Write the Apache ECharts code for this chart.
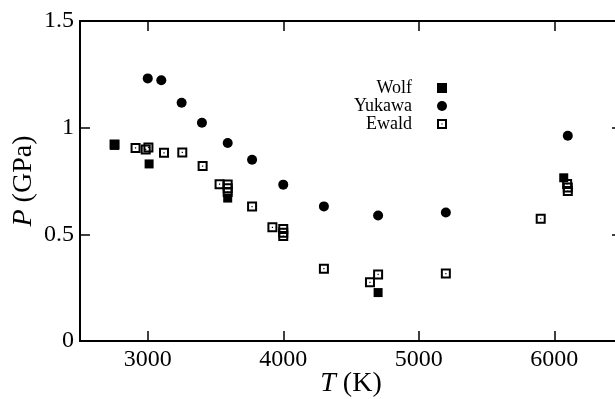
<!DOCTYPE html>
<html>
<head>
<meta charset="utf-8">
<script src="https://cdn.jsdelivr.net/npm/echarts@6/dist/echarts.min.js"></script>
<style>
  html, body { margin: 0; padding: 0; background: #fff; }
  #main { width: 615px; height: 399px; }
</style>
</head>
<body>
<div id="main"></div>
<script>
// P(T) for three electrostatic methods
const xTicks = [3000, 4000, 5000, 6000];
const yTicks = [0, 0.5, 1, 1.5];
const seriesNames = ["Wolf", "Yukawa", "Ewald"];

const wolfData = [
  [2755, 0.917], [3010, 0.830], [3590, 0.670], [4700, 0.227], [6070, 0.765]
];
const yukawaData = [
  [3000, 1.231], [3100, 1.222], [3250, 1.117], [3400, 1.023], [3590, 0.928],
  [3770, 0.850], [4000, 0.733], [4300, 0.631], [4700, 0.588], [5200, 0.602],
  [6100, 0.962]
];
const ewaldData = [
  [2755, 0.921], [2910, 0.905], [2985, 0.898], [3005, 0.907], [3120, 0.882],
  [3255, 0.884], [3405, 0.820], [3530, 0.735], [3590, 0.734], [3590, 0.716],
  [3590, 0.698], [3770, 0.630], [3920, 0.533], [4000, 0.525], [4000, 0.508],
  [4000, 0.492], [4300, 0.339], [4640, 0.275], [4700, 0.312], [5200, 0.316],
  [5900, 0.573], [6095, 0.736], [6100, 0.719], [6100, 0.703]
];

const FONT = "Liberation Serif";
const BLACK = "#000";
const SQ_FILLED = "path://M0,0L10,0L10,10L0,10Z";
const SQ_OPEN = "path://M0,0L10,0L10,10L0,10Z M2,2L2,8L8,8L8,2Z M4.4,4.4L5.6,4.4L5.6,5.6L4.4,5.6Z";

function frameAxis(pos) {
  return {
    type: "value",
    position: pos,
    axisLine: { show: true, onZero: false, lineStyle: { color: BLACK, width: 2 } },
    axisTick: { show: true, inside: true, length: 10, lineStyle: { color: BLACK, width: 1.5 } },
    axisLabel: { show: false },
    splitLine: { show: false }
  };
}

const chart = echarts.init(document.getElementById("main"));
const xTop = frameAxis("top");
const yRight = frameAxis("right");
xTop.min = 2500; xTop.max = 6500; xTop.axisTick.customValues = xTicks;
yRight.min = 0; yRight.max = 1.5; yRight.axisTick.customValues = yTicks;

const nameStyle = {
  color: BLACK, fontFamily: FONT, fontSize: 28,
  rich: { i: { fontStyle: "italic", fontFamily: FONT, fontSize: 28, color: BLACK } }
};

chart.setOption({
  animation: false,
  backgroundColor: "#fff",
  grid: { left: 80, right: -7, top: 21, bottom: 58, outerBoundsMode: "none" },
  legend: {
    orient: "vertical",
    align: "right",
    right: 168,
    top: 79,
    padding: 0,
    itemGap: 0,
    itemWidth: 50,
    itemHeight: 10,
    data: seriesNames,
    textStyle: { fontFamily: FONT, fontSize: 18, color: BLACK, lineHeight: 17 }
  },
  xAxis: [{
    type: "value",
    min: 2500,
    max: 6500,
    position: "bottom",
    name: "{i|T} (K)",
    nameLocation: "middle",
    nameGap: 29,
    nameMoveOverlap: false,
    nameTextStyle: nameStyle,
    axisLine: { onZero: false, lineStyle: { color: BLACK, width: 2 } },
    axisTick: { inside: true, length: 10, customValues: xTicks, lineStyle: { color: BLACK, width: 1.5 } },
    axisLabel: {
      customValues: xTicks, color: BLACK, fontFamily: FONT, fontSize: 24, margin: 7,
      formatter: function (v) { return String(v); }
    },
    splitLine: { show: false }
  }, xTop],
  yAxis: [{
    type: "value",
    min: 0,
    max: 1.5,
    interval: 0.5,
    position: "left",
    name: "{i|P} (GPa)",
    nameLocation: "middle",
    nameGap: 42,
    nameMoveOverlap: false,
    nameTextStyle: nameStyle,
    axisLine: { onZero: false, lineStyle: { color: BLACK, width: 2 } },
    axisTick: { inside: true, length: 10, lineStyle: { color: BLACK, width: 1.5 } },
    axisLabel: { color: BLACK, fontFamily: FONT, fontSize: 24, margin: 6 },
    splitLine: { show: false }
  }, yRight],
  series: [{
    name: "Wolf",
    type: "scatter",
    symbol: SQ_FILLED,
    symbolSize: 9,
    itemStyle: { color: BLACK, opacity: 1 },
    data: wolfData
  }, {
    name: "Yukawa",
    type: "scatter",
    symbol: "circle",
    symbolSize: 10,
    itemStyle: { color: BLACK, opacity: 1 },
    data: yukawaData
  }, {
    name: "Ewald",
    type: "scatter",
    symbol: SQ_OPEN,
    symbolSize: 10,
    itemStyle: { color: BLACK, opacity: 1 },
    data: ewaldData
  }]
});
</script>
</body>
</html>
